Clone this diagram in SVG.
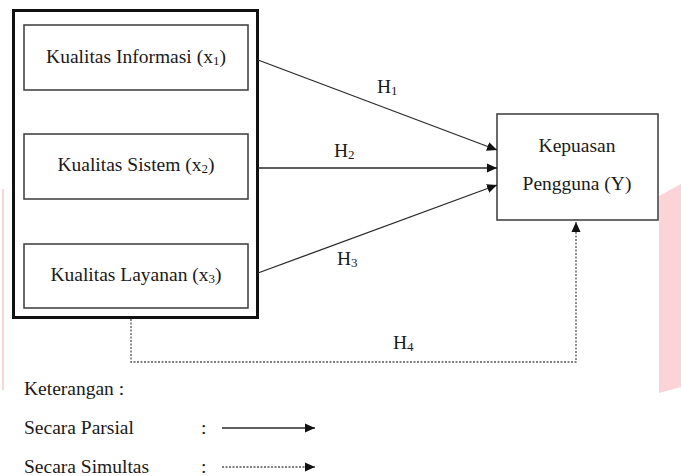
<svg xmlns="http://www.w3.org/2000/svg" width="681" height="476" viewBox="0 0 681 476" font-family="'Liberation Serif', 'Times New Roman', serif" font-size="19.5">
<defs>
<style>
text{font-family:'Liberation Serif','Times New Roman',serif;font-size:19.5px;fill:#1a1a1a}
.sub{font-size:13px}
.box{fill:#fff;stroke:#3a3a3a;stroke-width:1.5}
.ln{stroke:#2a2a2a;stroke-width:1.3;fill:none}
.dot{stroke:#555;stroke-width:1.3;fill:none;stroke-dasharray:2 1.5}
</style>
<marker id="ah" viewBox="0 0 10 10" refX="10" refY="5" markerWidth="10" markerHeight="10" markerUnits="userSpaceOnUse" orient="auto">
<path d="M0,0.5 L10,5 L0,9.5 Z" fill="#111"/>
</marker>
</defs>
<rect width="681" height="476" fill="#fff"/>
<path d="M659,196 L681,184 L681,387 L659,393 Z" fill="#fcd3d6"/>
<rect x="2" y="189" width="2" height="201" fill="#fbd6d8"/>

<g id="outer"><rect x="13.5" y="10.5" width="244" height="307" fill="none" stroke="#111" stroke-width="3"/></g>
<g id="x1"><rect class="box" x="24" y="25" width="224" height="65"/><text x="136" y="63" text-anchor="middle">Kualitas Informasi (x<tspan class="sub" dy="2">1</tspan><tspan dy="-2">)</tspan></text></g>
<g id="x2"><rect class="box" x="24" y="134" width="224" height="65"/><text x="136" y="171" text-anchor="middle">Kualitas Sistem (x<tspan class="sub" dy="2">2</tspan><tspan dy="-2">)</tspan></text></g>
<g id="x3"><rect class="box" x="24" y="244" width="224" height="64"/><text x="136" y="281" text-anchor="middle">Kualitas Layanan (x<tspan class="sub" dy="2">3</tspan><tspan dy="-2">)</tspan></text></g>
<g id="y"><rect class="box" x="497" y="114" width="161" height="106"/><text x="577" y="152" text-anchor="middle">Kepuasan</text><text x="577" y="190" text-anchor="middle">Pengguna (Y)</text></g>

<g id="connectors">
<line class="ln" x1="258" y1="60" x2="497" y2="150" marker-end="url(#ah)"/>
<line class="ln" x1="258" y1="168" x2="497" y2="168" marker-end="url(#ah)"/>
<line class="ln" x1="258" y1="273" x2="497" y2="185" marker-end="url(#ah)"/>
<path class="dot" d="M131,319 V362 H576 V222" marker-end="url(#ah)"/>
</g>
<g id="labels">
<text x="377" y="93">H<tspan class="sub" dy="2">1</tspan></text>
<text x="334" y="157">H<tspan class="sub" dy="2">2</tspan></text>
<text x="337" y="265">H<tspan class="sub" dy="2">3</tspan></text>
<text x="393" y="349">H<tspan class="sub" dy="2">4</tspan></text>
</g>
<g id="legend">
<text x="24" y="395">Keterangan :</text>
<text x="24" y="434">Secara Parsial</text>
<text x="201" y="434">:</text>
<line class="ln" x1="222" y1="428" x2="315" y2="428" marker-end="url(#ah)"/>
<text x="24" y="473">Secara Simultas</text>
<text x="201" y="473">:</text>
<line class="dot" x1="222" y1="467" x2="315" y2="467" marker-end="url(#ah)"/>
</g>
</svg>
